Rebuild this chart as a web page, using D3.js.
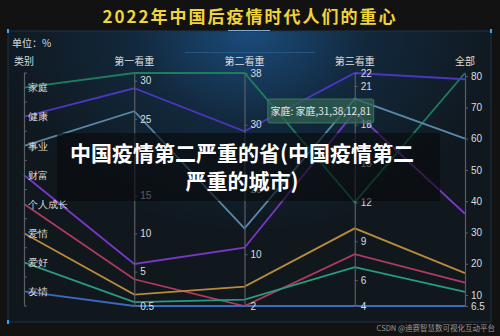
<!DOCTYPE html>
<html>
<head>
<meta charset="utf-8">
<script src="https://cdn.jsdelivr.net/npm/d3@7/dist/d3.min.js"></script>
<style>
  body { margin: 0; background: #121212; }
  svg { display: block; font-family: "Noto Sans CJK SC", "Noto Sans", sans-serif; }
</style>
</head>
<body>
<div id="chart"></div>
<script>
const width = 500;
const height = 336;

// data
const dims = ["类别", "第一看重", "第二看重", "第三看重", "全部"];
const categories = ["家庭", "健康", "事业", "财富", "个人成长", "爱情", "爱好", "友情"];
const first = [31, 29, 26, 6, 4, 2, 1, 0.5];
const second = [38, 29, 14, 11, 2, 5, 3, 2];
const third = [12, 22, 20, 19, 8, 10, 7, 4];
const total = [81, 79, 60, 36, 14, 17, 11, 6.5];
const colors = ["#1f7d5c", "#4b36c0", "#5a88a8", "#7a36c8", "#b03a62", "#b88a3c", "#2a9a80", "#3a6ac0"];

const tick_first = [0.5, 5, 10, 15, 20, 25, 30];
const tick_second = [2, 10, 20, 30, 38];
const tick_third = [4, 6, 9, 12, 15, 18, 21, 22];
const tick_total = [6.5, 10, 20, 30, 40, 50, 60, 70, 80];

const title = "2022年中国后疫情时代人们的重心";
const overlay_lines = ["中国疫情第二严重的省(中国疫情第二", "严重的城市)"];

const top_y = 73, bottom_y = 306;

let svg = d3.select("#chart").append("svg")
  .attr("width", width)
  .attr("height", height);

let defs = svg.append("defs");
let grad = defs.append("radialGradient")
  .attr("id", "glow")
  .attr("gradientUnits", "userSpaceOnUse")
  .attr("cx", 250).attr("cy", 30).attr("r", 260)
  .attr("gradientTransform", "translate(250,30) scale(1,0.8) translate(-250,-30)");
grad.append("stop").attr("offset", "0%").attr("stop-color", "#1b4c7c");
grad.append("stop").attr("offset", "45%").attr("stop-color", "#12283c");
grad.append("stop").attr("offset", "100%").attr("stop-color", "#10171d");

svg.append("rect").attr("width", width).attr("height", height).attr("fill", "#121212");

// panel
svg.append("rect")
  .attr("x", 8).attr("y", 31).attr("width", 483).attr("height", 291)
  .attr("fill", "url(#glow)")
  .attr("stroke", "#1d3446").attr("stroke-width", 1);
svg.append("line").attr("x1", 228).attr("x2", 270).attr("y1", 30.5).attr("y2", 30.5)
  .attr("stroke", "#9fd0f0").attr("stroke-width", 1.2).attr("opacity", 0.8);
svg.append("line").attr("x1", 185).attr("x2", 315).attr("y1", 52.5).attr("y2", 52.5)
  .attr("stroke", "#2d6a9a").attr("stroke-width", 1).attr("opacity", 0.6);
[[8, 31], [491, 31], [8, 322]].forEach(function(p) {
  svg.append("rect").attr("x", p[0] - 1).attr("y", p[1] - 2).attr("width", 2).attr("height", 4)
    .attr("fill", "#2aa8ff");
});

// title
svg.append("text")
  .attr("x", 250).attr("y", 23)
  .attr("text-anchor", "middle")
  .attr("fill", "#f2d43a")
  .attr("font-size", 17)
  .attr("font-weight", "bold")
  .attr("letter-spacing", 2)
  .text(title);

svg.append("text")
  .attr("x", 12).attr("y", 47)
  .attr("fill", "#dddddd").attr("font-size", 10)
  .text("单位：%");

// scales
let xScale = d3.scalePoint().domain(dims).range([24, 465]);
let catScale = d3.scalePoint().domain(categories).range([top_y, bottom_y]).padding(0.5);
let series = [first, second, third, total];
let ticks = [tick_first, tick_second, tick_third, tick_total];
let yScales = series.map(function(s) {
  return d3.scaleLinear().domain(d3.extent(s)).range([bottom_y, top_y]);
});

// lines
let lineGen = d3.line();
let lines = svg.append("g");
categories.forEach(function(c, i) {
  let pts = [[xScale(dims[0]), catScale(c)]];
  series.forEach(function(s, k) {
    pts.push([xScale(dims[k + 1]), yScales[k](s[i])]);
  });
  lines.append("path")
    .attr("d", lineGen(pts))
    .attr("fill", "none")
    .attr("stroke", colors[i])
    .attr("stroke-width", 1.8);
});

// axes
function styleAxis(g) {
  g.select(".domain").attr("stroke", "#5a5f66").attr("stroke-width", 1.2);
  g.selectAll(".tick line").attr("stroke", "#5a5f66");
  g.selectAll(".tick text").attr("fill", "#dddddd").attr("font-size", 10);
}

let catAxis = svg.append("g")
  .attr("transform", "translate(" + xScale(dims[0]) + ",0)")
  .call(d3.axisRight(catScale).tickSize(0).tickPadding(4))
  .call(styleAxis);
catAxis.select(".domain").attr("d", "M0.5," + top_y + "V" + bottom_y);
let step = catScale.step();
for (let k = 0; k <= categories.length; k++) {
  catAxis.append("line")
    .attr("x1", 0).attr("x2", 3)
    .attr("y1", top_y + k * step).attr("y2", top_y + k * step)
    .attr("stroke", "#5a5f66");
}

yScales.forEach(function(sc, k) {
  svg.append("g")
    .attr("transform", "translate(" + xScale(dims[k + 1]) + ",0)")
    .call(d3.axisRight(sc).tickValues(ticks[k]).tickSize(3).tickPadding(3).tickSizeOuter(0)
      .tickFormat(function(d) { return String(d); }))
    .call(styleAxis);
});

// axis names
svg.append("g").selectAll("text")
  .data(dims)
  .enter().append("text")
  .attr("x", function(d) { return xScale(d); })
  .attr("y", 65)
  .attr("text-anchor", "middle")
  .attr("fill", "#dddddd")
  .attr("font-size", 10)
  .text(function(d) { return d; });

// tooltip
let tip = svg.append("g").attr("transform", "translate(" + (xScale(dims[3]) - 87) + ",99)");
tip.append("rect")
  .attr("width", 106).attr("height", 24).attr("rx", 2)
  .attr("fill", "rgba(48,98,82,0.75)")
  .attr("stroke", "rgba(70,140,110,0.7)");
tip.append("text")
  .attr("x", 53).attr("y", 16)
  .attr("text-anchor", "middle")
  .attr("fill", "#e6e6e6").attr("font-size", 10)
  .text(categories[0] + ": " + [categories[0], first[0], second[0], third[0], total[0]].join(","));

// overlay
svg.append("rect")
  .attr("x", 57).attr("y", 133).attr("width", 383).attr("height", 68)
  .attr("fill", "rgba(8,10,12,0.62)");
svg.append("g").selectAll("text")
  .data(overlay_lines)
  .enter().append("text")
  .attr("x", 242)
  .attr("y", function(d, i) { return 161 + i * 28; })
  .attr("text-anchor", "middle")
  .attr("fill", "#ffffff")
  .attr("font-size", 21)
  .attr("font-weight", "bold")
  .text(function(d) { return d; });

// watermark
svg.append("text")
  .attr("x", 495).attr("y", 331)
  .attr("text-anchor", "end")
  .attr("fill", "#9a9a9a").attr("font-size", 7.5)
  .text("CSDN @迪赛智慧数可视化互动平台");
</script>
</body>
</html>
